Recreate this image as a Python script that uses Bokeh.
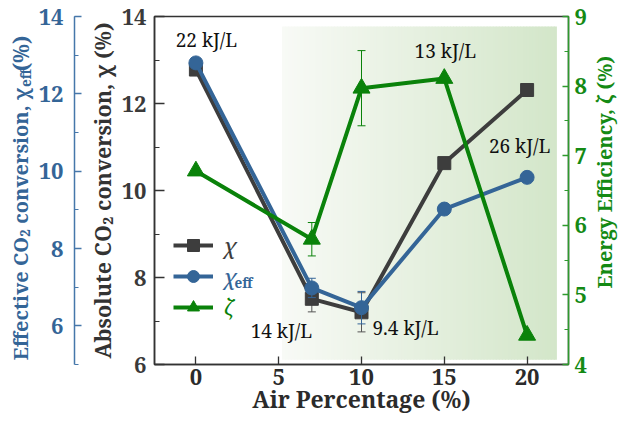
import math
import numpy as np
from bokeh.plotting import figure
from bokeh.layouts import row
from bokeh.models import (Range1d, LinearAxis, SingleIntervalTicker, FixedTicker,
                          ColumnDataSource, Legend, LegendItem, Label)
from bokeh.core.properties import value
from bokeh.embed import file_html
from bokeh.resources import INLINE

# ---------------- data ----------------
air = [0, 7, 10, 15, 20]                       # Air percentage (%)
chi = [12.78, 7.51, 7.20, 10.63, 12.31]        # absolute CO2 conversion (%)
chi_err = [0, 0.30, 0.45, 0, 0]
chi_eff = [12.80, 6.98, 6.47, 9.02, 9.84]      # effective CO2 conversion (%)
chi_eff_err = [0, 0.25, 0.42, 0, 0]
zeta = [6.78, 5.80, 7.97, 8.11, 4.42]          # energy efficiency (%)
zeta_err = [0, 0.24, 0.54, 0, 0]
energy = [22, 14, 9.4, 13, 26]                 # SEI, kJ/L
x_ticks = [0, 5, 10, 15, 20]

# ---------------- layout (screen pixels) ----------------
W, H = 619, 425
WT = 35                          # left strip carrying the outer left title
WR = 30                          # right strip carrying the right title
WM = W - WT - WR
SL, SR, ST, SB = 146, 570, 16, 364
FL, FR, FT, FB = SL - WT, SR - WT, ST, SB
XR = (-2.5, 22.5)
YR = (6, 14)
YR_EFF = (5, 14)
YR_Z = (4, 9)


def px2x(px):
    return XR[0] + (px - FL) / (FR - FL) * (XR[1] - XR[0])


def px2y(py):
    return YR[0] + (FB - py) / (FB - FT) * (YR[1] - YR[0])


FONT = "Noto Serif"
DARK = "#2b2b2b"
GRAY = "#3d3d3d"
BLUE = "#346597"
GREEN = "#0a820a"
AX_BLUE = "#4677aa"
AX_GREEN = "#2e9a2e"
TXT_GREEN = "#148a14"

p = figure(width=WM, height=H, output_backend="svg", toolbar_location=None,
           x_range=Range1d(*XR), y_range=Range1d(*YR),
           min_border_left=FL, min_border_right=WM - FR,
           min_border_top=FT, min_border_bottom=H - FB)
p.extra_y_ranges = {"eff": Range1d(*YR_EFF), "zeta": Range1d(*YR_Z)}
p.grid.visible = False
p.outline_line_color = "#333333"
p.outline_line_width = 1.5
p.background_fill_color = "white"
p.border_fill_color = "white"


def style_axis(ax, color, text_color, tick_in, minor_in, standoff):
    ax.axis_line_color = color
    ax.axis_line_width = 1.5
    ax.major_tick_line_color = color
    ax.minor_tick_line_color = color
    ax.major_tick_line_width = 1.3
    ax.minor_tick_line_width = 1.2
    ax.major_tick_in = tick_in
    ax.major_tick_out = 0
    ax.minor_tick_in = minor_in
    ax.minor_tick_out = 0
    ax.major_label_standoff = standoff
    ax.major_label_text_font = FONT
    ax.major_label_text_font_style = "bold"
    ax.major_label_text_font_size = "22px"
    ax.major_label_text_color = text_color


# x axis
xax = p.below[0]
xax.ticker = FixedTicker(ticks=x_ticks)
style_axis(xax, "#333333", DARK, 8, 0, 4)
xax.axis_label = "Air Percentage (%)"
xax.axis_label_text_font = FONT
xax.axis_label_text_font_style = "bold"
xax.axis_label_text_font_size = "23px"
xax.axis_label_text_color = DARK
xax.axis_label_standoff = -5

# inner left axis (absolute conversion)
yin = p.left[0]
yin.ticker = SingleIntervalTicker(interval=2, num_minor_ticks=2)
style_axis(yin, "#333333", "#3a3a3a", 10, 5, 8)
yin.axis_label = "Absolute CO₂ conversion, χ (%)"
yin.axis_label_text_font = FONT
yin.axis_label_text_font_style = "bold"
yin.axis_label_text_font_size = "21.5px"
yin.axis_label_text_color = "#333333"
yin.axis_label_standoff = 2

# invisible spacer between the two left axes
spacer = LinearAxis(ticker=FixedTicker(ticks=[10], minor_ticks=[]),
                    major_label_overrides={10: ""},
                    axis_line_alpha=0, major_tick_line_alpha=0, minor_tick_line_alpha=0,
                    major_tick_in=0, major_tick_out=10, minor_tick_in=0, minor_tick_out=0,
                    major_label_standoff=0, major_label_text_font_size="1px")
p.add_layout(spacer, "left")

# outer left axis (effective conversion)
yeff = LinearAxis(y_range_name="eff", ticker=SingleIntervalTicker(interval=2, num_minor_ticks=2))
style_axis(yeff, AX_BLUE, BLUE, 7, 4, 11)
p.add_layout(yeff, "left")

# right axis (energy efficiency)
yz = LinearAxis(y_range_name="zeta", ticker=SingleIntervalTicker(interval=1, num_minor_ticks=2))
style_axis(yz, AX_GREEN, TXT_GREEN, 6, 4, 6)
p.add_layout(yz, "right")

# ---------------- gradient background panel ----------------
GX0, GX1, GY0, GY1 = 5.2, 21.8, 6.11, 13.77
N = 90
c0 = np.array([248, 250, 246])
c1 = np.array([211, 230, 201])
edges = np.linspace(GX0, GX1, N + 1)
ts = (np.arange(N) + 0.5) / N
cols = ["#%02x%02x%02x" % tuple(np.round(c0 + (c1 - c0) * t).astype(int)) for t in ts]
rights = edges[1:].copy()
rights[:-1] += (GX1 - GX0) / N * 0.3
p.quad(left=edges[:-1], right=rights, bottom=GY0, top=GY1, fill_color=cols, line_color=None)

# ---------------- series ----------------
src = ColumnDataSource(dict(x=air, chi=chi, eff=chi_eff, zeta=zeta))


def errbars(xs, ys, es, color, rng, width=1.0):
    sel = [i for i, e in enumerate(es) if e > 0]
    ex = [xs[i] for i in sel]
    lo = [ys[i] - es[i] for i in sel]
    hi = [ys[i] + es[i] for i in sel]
    kw = {} if rng is None else {"y_range_name": rng}
    p.segment(x0=ex, y0=lo, x1=ex, y1=hi, line_color=color, line_width=width, **kw)
    p.scatter(x=ex + ex, y=lo + hi, marker="dash", size=8, line_color=color,
              line_width=width, **kw)


errbars(air, chi, chi_err, "#555555", None)
gl = p.line("x", "chi", source=src, line_color=GRAY, line_width=4)
gs = p.scatter("x", "chi", source=src, marker="square", size=13, fill_color=GRAY, line_color=GRAY)

errbars(air, chi_eff, chi_eff_err, BLUE, "eff")
bl = p.line("x", "eff", source=src, line_color=BLUE, line_width=4, y_range_name="eff")
bs = p.scatter("x", "eff", source=src, marker="circle", size=14, fill_color=BLUE,
               line_color=BLUE, y_range_name="eff")

errbars(air, zeta, zeta_err, GREEN, "zeta")
zl = p.line("x", "zeta", source=src, line_color=GREEN, line_width=4, y_range_name="zeta")
zs = p.scatter("x", "zeta", source=src, marker="triangle", size=17, fill_color=GREEN,
               line_color=GREEN, y_range_name="zeta")

# ---------------- legends (one per entry so each can carry its own colour) ----------------
leg_rows = [("χ", [gl, gs], GRAY, 104), ("χ", [bl, bs], BLUE, 73), ("ζ", [zl, zs], GREEN, 42)]
for lab, rends, colr, ybot in leg_rows:
    lg = Legend(items=[LegendItem(label=lab, renderers=rends)], location=(19, ybot),
                background_fill_alpha=0, border_line_alpha=0, padding=0, margin=0, spacing=0,
                glyph_width=40, glyph_height=30, label_height=30, label_standoff=11,
                label_text_font=FONT, label_text_font_size="22px", label_text_color=colr,
                label_text_font_style="italic")
    p.add_layout(lg)
p.add_layout(Label(x=px2x(228 - WT), y=px2y(282), text="eff", text_align="left",
                   text_baseline="middle", text_font=FONT, text_font_size="13.5px",
                   text_font_style="bold", text_color=BLUE))

# ---------------- energy annotations ----------------
anchors = [(chi, None), (chi, None), (chi, None), (zeta, "zeta"), (chi, None)]
offsets = [(10.5, 30, "center"), (-30.5, -32, "center"), (11, -16, "left"),
           (1, 27, "center"), (-7.5, -56, "center")]
for i, e in enumerate(energy):
    ys, rng = anchors[i]
    dx, dy, al = offsets[i]
    kw = {} if rng is None else {"y_range_name": rng}
    p.add_layout(Label(x=air[i], y=ys[i], x_offset=dx, y_offset=dy, text=f"{e:g} kJ/L",
                       text_align=al, text_baseline="middle", text_font=FONT,
                       text_font_size="19px", text_color="#111111", **kw))


# ---------------- side strips carrying the rotated titles ----------------
def strip(width):
    s = figure(width=width, height=H, output_backend="svg", toolbar_location=None,
               x_range=Range1d(0, width), y_range=Range1d(0, H),
               x_axis_type=None, y_axis_type=None,
               min_border=0, min_border_left=0, min_border_right=0,
               min_border_top=0, min_border_bottom=0)
    s.grid.visible = False
    s.outline_line_color = None
    s.background_fill_color = "white"
    s.border_fill_color = "white"
    return s


t = strip(WT)
JX, JY = 20, 87     # junction of "χ" and its subscript, page pixels
parts = [("Effective CO₂ conversion, χ", JX, JY, "right", "20px"),
         ("eff", JX + 5, JY - 1, "left", "13.5px"),
         ("(%)", JX, JY - 20, "left", "21px")]
for txt, xx, yy, al, fs in parts:
    t.text(x=[xx], y=[H - yy], text=[txt], angle=math.pi / 2, text_align=al,
           text_baseline="middle", text_font=value(FONT), text_font_size=value(fs),
           text_font_style="bold", text_color=BLUE)

r = strip(WR)
r.text(x=[WR / 2], y=[H - (FT + FB) / 2], text=["Energy Efficiency, ζ (%)"], angle=math.pi / 2,
       text_align="center", text_baseline="middle", text_font=value(FONT),
       text_font_size=value("20px"), text_font_style="bold", text_color=TXT_GREEN)

layout = row(t, p, r, spacing=0)
open("out.html", "w").write(file_html(layout, INLINE))
